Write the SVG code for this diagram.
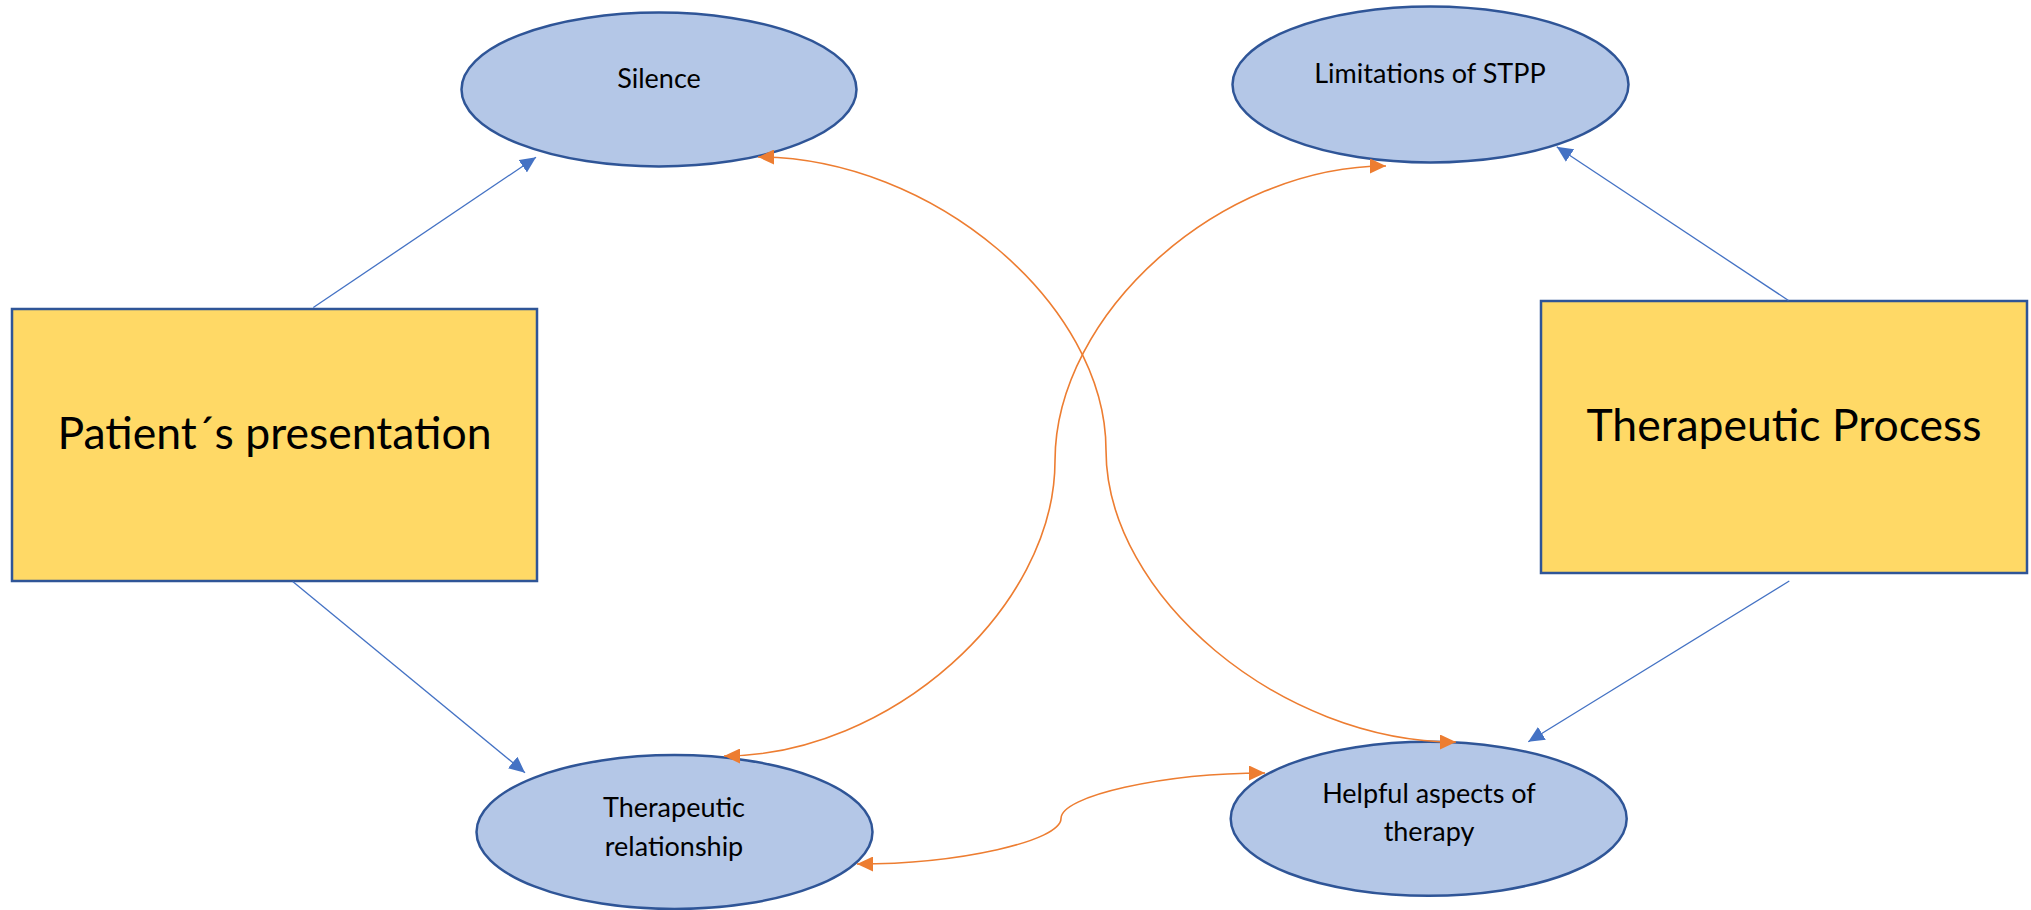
<svg xmlns="http://www.w3.org/2000/svg" width="2031" height="910" viewBox="0 0 2031 910">
<defs>
<style>
.ell{fill:#B4C7E7;stroke:#2F5597;stroke-width:2.5}
.box{fill:#FFD966;stroke:#2F5597;stroke-width:2.5}
.sm{font-family:Lato,"Open Sans","Liberation Sans",sans-serif;font-size:27px;fill:#000;text-anchor:middle}
.bg{font-family:Lato,"Open Sans","Liberation Sans",sans-serif;font-size:44.5px;fill:#000;text-anchor:middle}
.blue{fill:none;stroke:#4472C4;stroke-width:1.3;marker-end:url(#ab)}
.orng{fill:none;stroke:#ED7D31;stroke-width:1.6;marker-start:url(#ao);marker-end:url(#ao)}
</style>
<marker id="ab" markerUnits="userSpaceOnUse" markerWidth="16" markerHeight="15" refX="16" refY="7.5" orient="auto-start-reverse" viewBox="0 0 16 15"><path d="M0,0L16,7.5L0,15z" fill="#4472C4"/></marker>
<marker id="ao" markerUnits="userSpaceOnUse" markerWidth="16" markerHeight="15" refX="16" refY="7.5" orient="auto-start-reverse" viewBox="0 0 16 15"><path d="M0,0L16,7.5L0,15z" fill="#ED7D31"/></marker>
</defs>
<rect width="2031" height="910" fill="#fff"/>
<g id="silence"><ellipse class="ell" cx="659" cy="89.5" rx="197.5" ry="77"/><text class="sm" x="659" y="88">Silence</text></g>
<g id="limitations"><ellipse class="ell" cx="1430.5" cy="84.5" rx="198" ry="78"/><text class="sm" x="1430" y="83">Limitations of STPP</text></g>
<g id="relationship"><ellipse class="ell" cx="674.5" cy="832" rx="198" ry="77"/><text class="sm" x="674" y="817">Therapeutic</text><text class="sm" x="674" y="856">relationship</text></g>
<g id="helpful"><ellipse class="ell" cx="1428.7" cy="818.8" rx="198" ry="77"/><text class="sm" x="1429" y="803">Helpful aspects of</text><text class="sm" x="1429" y="841">therapy</text></g>
<g id="patient"><rect class="box" x="12" y="309" width="525" height="272"/><text class="bg" x="274.5" y="449">Patient´s presentation</text></g>
<g id="process"><rect class="box" x="1541" y="301" width="486" height="272"/><text class="bg" x="1784" y="441">Therapeutic Process</text></g>
<g id="connectors">
<path class="blue" d="M313.3,307.5L536,157.3"/>
<path class="blue" d="M292.7,581.5L525,772.7"/>
<path class="blue" d="M1788.5,300.5L1556.7,146.7"/>
<path class="blue" d="M1789.3,581L1528.3,741.7"/>
<path class="orng" d="M758,157C932,157 1106,304 1106,450C1106,596 1281,742 1456,742"/>
<path class="orng" d="M1386,166C1220.5,166 1055,313.5 1055,461C1055,608.5 889.5,756 724,756"/>
<path class="orng" d="M857,864C959,864 1061,841 1061,818.5C1061,796 1163,773 1265,773"/>
</g>
</svg>
